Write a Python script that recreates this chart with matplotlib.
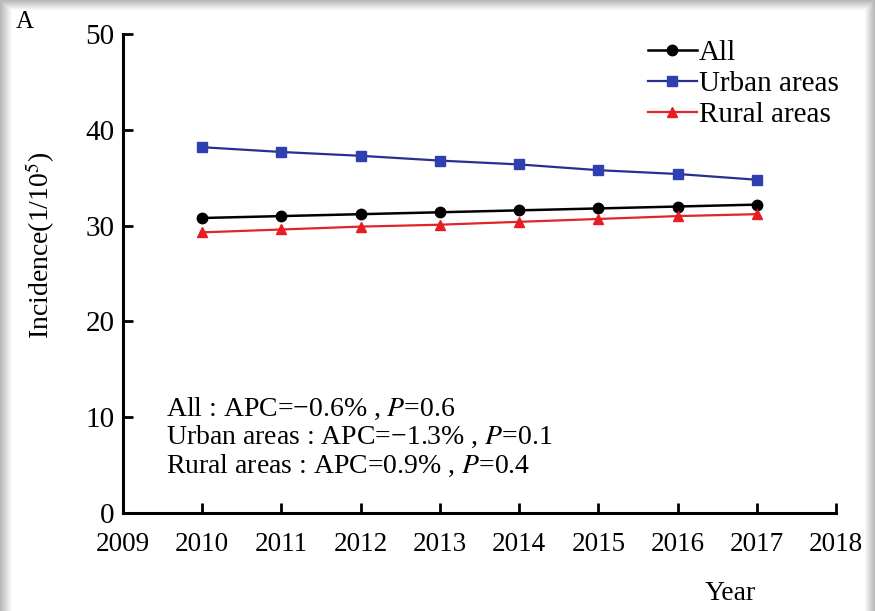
import numpy as np
import matplotlib
matplotlib.use("Agg")
import matplotlib.pyplot as plt

plt.rcParams['font.family'] = ['Liberation Serif', 'DejaVu Serif']
plt.rcParams['mathtext.fontset'] = 'stix'

years = [2010, 2011, 2012, 2013, 2014, 2015, 2016, 2017]
all_vals = [30.8, 31.0, 31.2, 31.4, 31.6, 31.8, 32.0, 32.2]
urban_vals = [38.2, 37.7, 37.3, 36.8, 36.4, 35.8, 35.4, 34.8]
rural_vals = [29.3, 29.6, 29.9, 30.1, 30.4, 30.7, 31.0, 31.2]
xticks = list(range(2009, 2019))
yticks = [0, 10, 20, 30, 40, 50]
series_names = ['All', 'Urban areas', 'Rural areas']
apc_lines = ['All : APC=\u22120.6% , $P$=0.6',
             'Urban areas : APC=\u22121.3% , $P$=0.1',
             'Rural areas : APC=0.9% , $P$=0.4']

W, H = 875, 611
fig = plt.figure(figsize=(W / 100, H / 100), dpi=100)

# shadow frame background
bg = fig.add_axes([0, 0, 1, 1], zorder=-10)
xx = np.arange(W)[None, :]
yy = np.arange(H)[:, None]
dl = np.clip(xx / 12.0, 0, 1)
dt = np.clip(yy / 10.0, 0, 1)
dr = np.clip((W - 1 - xx) / 10.0, 0, 1)
d = np.minimum(np.minimum(dl, dt), dr)
img = 0.72 + 0.28 * d
bg.imshow(img, cmap='gray', vmin=0, vmax=1, aspect='auto', interpolation='bilinear')
bg.axis('off')

ax = fig.add_axes([123 / W, 1 - 512.7 / H, (836 - 123) / W, (512.7 - 34.3) / H])
ax.patch.set_alpha(0)

ax.plot(years, all_vals, color='black', lw=1.8, marker='o', ms=7.5, label=series_names[0])
ax.plot(years, urban_vals, color='#2a2f8f', lw=1.6, marker='s', ms=7.5,
        mfc='#2f3fb0', mec='#2f3fb0', label=series_names[1])
ax.plot(years, rural_vals, color='#e0242c', lw=1.6, marker='^', ms=7.5,
        mfc='#e81c24', mec='#e81c24', label=series_names[2])

ax.set_xlim(2009, 2018)
ax.set_ylim(0, 50)
ax.set_xticks(xticks)
ax.set_yticks(yticks)
for s in ['top', 'right']:
    ax.spines[s].set_visible(False)
for s in ['left', 'bottom']:
    ax.spines[s].set_linewidth(2.2)
ax.tick_params(direction='in', length=7, width=2, colors='black')
ax.tick_params(axis='x', pad=14, labelsize=19.5)
ax.tick_params(axis='y', pad=6, labelsize=21)
ax.set_ylabel('Incidence(1/10$^5$)', fontsize=20)
ax.yaxis.set_label_coords(-0.093, 0.56)

leg = ax.legend(loc='upper right', bbox_to_anchor=(1.028, 1.025), frameon=False, fontsize=21,
                handlelength=1.7, handletextpad=0.05, labelspacing=0.16, borderaxespad=0.2)

ax.text(0.06, 0.245, '\n'.join(apc_lines), transform=ax.transAxes, fontsize=20,
        va='top', ha='left', linespacing=1.12)

fig.text(705 / W, 1 - 593 / H, 'Year', fontsize=20, ha='left', va='center')
fig.text(16 / W, 1 - 22 / H, 'A', fontsize=18, ha='left', va='center')

fig.savefig('out.png', dpi=100)
